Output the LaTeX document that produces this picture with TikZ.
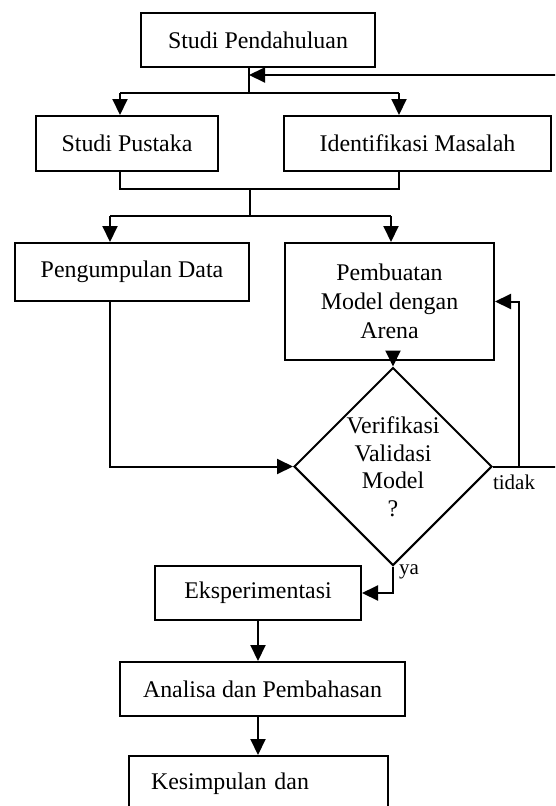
\documentclass[tikz,border=0pt]{standalone}
\usepackage{fontspec}
\setmainfont{Liberation Serif}
\usetikzlibrary{shapes.geometric,arrows.meta}
\begin{document}
\begin{tikzpicture}[x=1pt,y=-1pt,
  line width=2pt,
  box/.style={draw,rectangle,inner sep=0pt,align=center,
    font=\fontsize{23.9}{29}\selectfont},
  arr/.style={-{Triangle[length=16pt,width=15pt]}},
  lab/.style={inner sep=0pt,font=\fontsize{21}{24}\selectfont}]
\useasboundingbox (0,0) rectangle (555,806);
\clip (0,0) rectangle (555,806);
% boxes
\node[box,minimum width=234pt,minimum height=54pt] (sp) at (258,40) {Studi Pendahuluan};
\node[box,minimum width=182pt,minimum height=55pt] (pus) at (127,143.5) {Studi Pustaka};
\node[box,minimum width=267pt,minimum height=55pt] (idm) at (417.5,143.5) {Identifikasi Masalah};
\node[box,minimum width=234pt,minimum height=58pt] (pd) at (132,272) {Pengumpulan Data};
\node[box,minimum width=209pt,minimum height=117pt] (pm) at (389.5,301.5) {Pembuatan\\Model dengan\\Arena};
\node[box,diamond,minimum width=198pt,minimum height=198pt,inner sep=-6pt,
  font=\fontsize{23.9}{27.5}\selectfont] (dia) at (393,466.5) {Verifikasi\\Validasi\\Model\\?};
\node[box,minimum width=206pt,minimum height=54pt] (eks) at (258,593) {Eksperimentasi};
\node[box,minimum width=285pt,minimum height=54pt] (ana) at (262.5,689) {Analisa dan Pembahasan};
\node[box,anchor=north west,align=left,text width=215pt,inner xsep=22pt,inner ysep=0pt,
  text height=33pt,text depth=70pt] (kes) at (128,755) {Kesimpulan dan};
% junction coordinates
\coordinate (j1) at (249,93);
\coordinate (a1) at (120,93);
\coordinate (a2) at (399,93);
\coordinate (fbtop) at (565,75);
\coordinate (b1) at (120,189);
\coordinate (b2) at (399,189);
\coordinate (c0) at (250,189);
\coordinate (c1) at (250,216);
\coordinate (c2) at (110,216);
\coordinate (c3) at (391,216);
\coordinate (d1) at (110,466.5);
\coordinate (t1) at (519,466.5);
\coordinate (t2) at (565,466.5);
% connectors
\draw (sp.south -| j1) -- (j1);
\draw (a1) -- (a2);
\draw[arr] (a1) -- (a1 |- pus.north);
\draw[arr] (a2) -- (a2 |- idm.north);
\draw[arr] (fbtop) -- (j1 |- fbtop);
\draw (b1 |- pus.south) -- (b1) -- (b2) -- (b2 |- idm.south);
\draw (c0) -- (c1);
\draw (c2) -- (c3);
\draw[arr] (c2) -- (c2 |- pd.north);
\draw[arr] (c3) -- (c3 |- pm.north);
\draw[arr] (d1 |- pd.south) -- (d1) -- (dia.west);
\draw[arr] (dia.north |- pm.south) -- (dia.north);
\draw (dia.east) -- (t2);
\draw[arr] (t1) |- (pm.east);
\draw[arr] (dia.south) |- (eks.east);
\draw[arr] (eks.south) -- (eks.south |- ana.north);
\draw[arr] (eks.south |- ana.south) -- (eks.south |- kes.north);
% labels
\node[lab] (tidak) at (514,482) {tidak};
\node[lab] (ya) at (409,572) {ya};
\end{tikzpicture}
\end{document}
